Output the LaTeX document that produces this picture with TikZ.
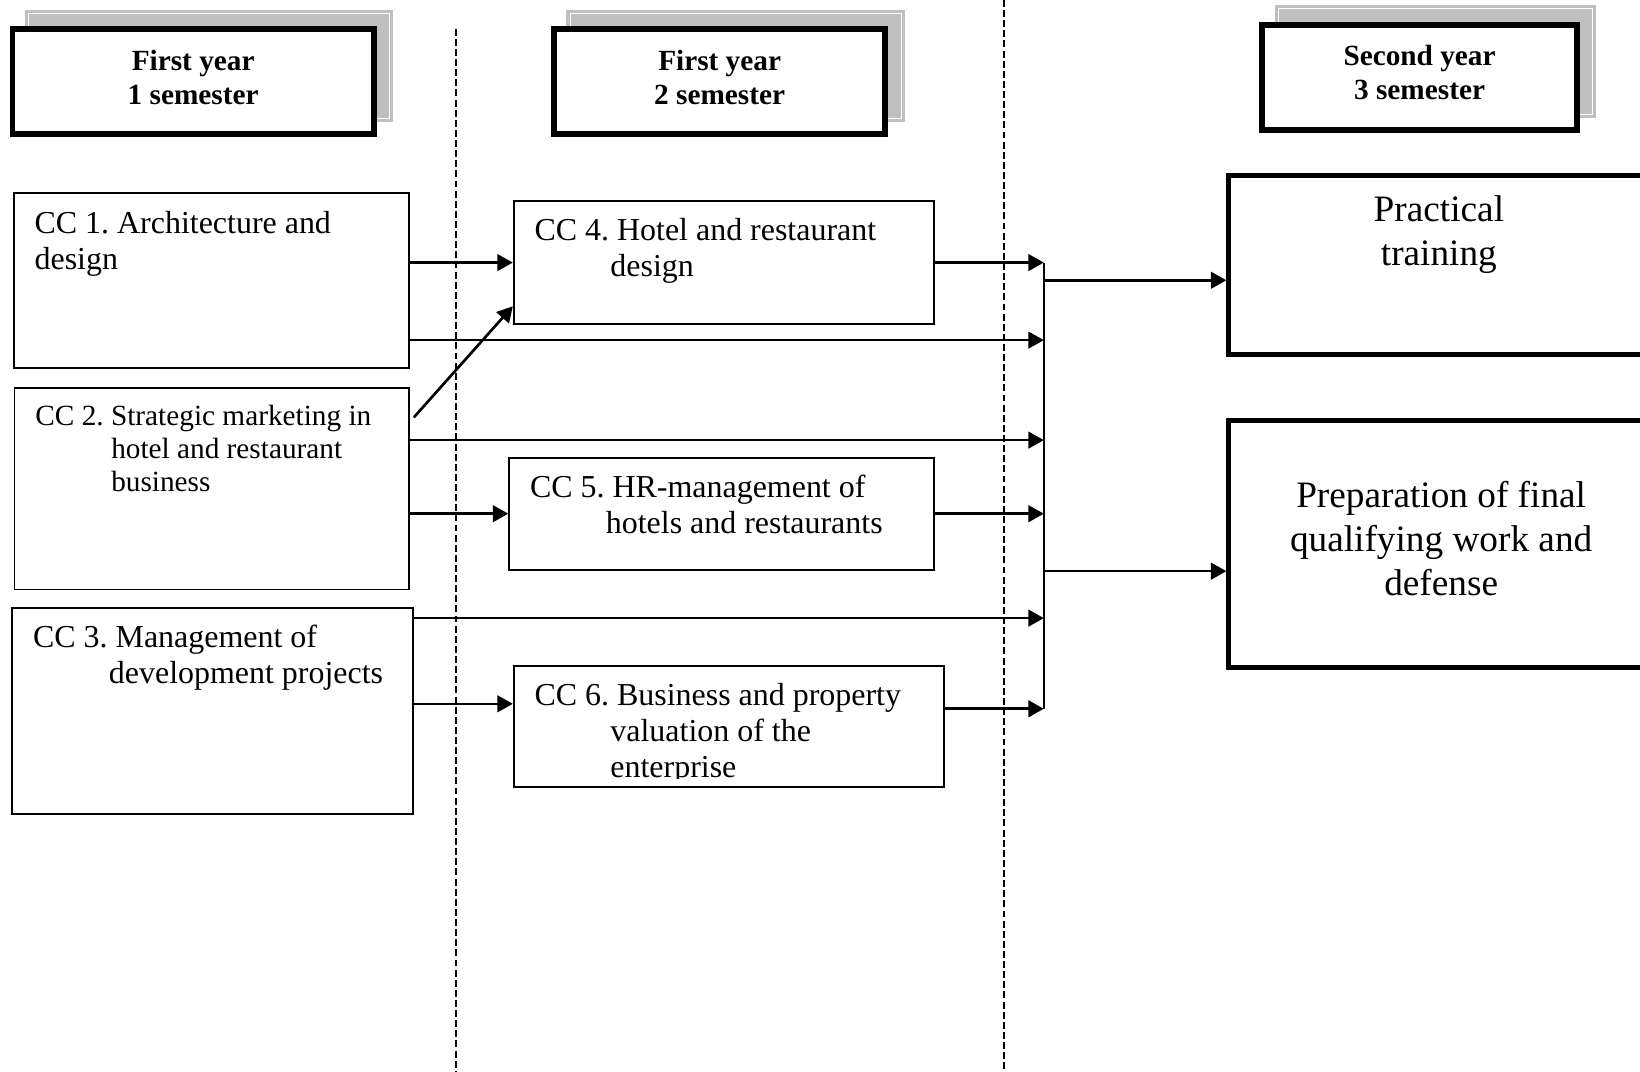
\documentclass[tikz,border=0pt]{standalone}
\usepackage{fontspec}
\setmainfont{Liberation Serif}
\usetikzlibrary{arrows.meta, shadows}

\tikzset{
    semester/.style={draw, line width=2.25pt, fill=white, minimum height=1.39cm,
        general shadow={shadow xshift=0.21cm, shadow yshift=0.21cm, fill=gray!50,
            draw=gray!50, double=white, double distance=0.35pt, line width=1.2pt}},
    semtext/.style={align=center, inner sep=0pt,
        font=\fontsize{11}{12.6}\selectfont\bfseries\frenchspacing},
    ccbox/.style={draw, line width=0.65pt, anchor=north west, inner sep=0pt},
    cctext/.style={anchor=north west, align=left, inner sep=0pt,
        font=\fontsize{12}{13.5}\selectfont\frenchspacing},
    bigbox/.style={draw, line width=1.7pt, anchor=north west, inner sep=0pt},
    bigtext/.style={anchor=north, align=center, inner sep=0pt,
        font=\fontsize{14}{16.4}\selectfont},
    arr/.style={-{Triangle[length=5.8pt, width=6.2pt]}, line width=1pt},
    divider/.style={dash pattern=on 2.6pt off 1.2pt, line width=0.75pt}
}
\newcommand{\ccindent}{\hspace*{28.5pt}}

\begin{document}
\begin{tikzpicture}
    \useasboundingbox (0,0) rectangle (21.65,-14.14);

    % Dividing lines between the semesters
    \draw[divider] (6.02,-0.38) -- (6.02,-14.14);
    \draw[divider] (13.26,0) -- (13.26,-14.14);

    % Semester headers
    \node[semester, minimum width=4.77cm] (sem1) at (2.55,-1.08) {};
    \node[semester, minimum width=4.37cm] (sem2) at (9.50,-1.08) {};
    \node[semester, minimum width=4.15cm] (sem3) at (18.74,-1.02) {};
    \node[semtext] (sem1txt) at ([yshift=0.06cm]sem1.center) {First year\\1 semester};
    \node[semtext] (sem2txt) at ([yshift=0.06cm]sem2.center) {First year\\2 semester};
    \node[semtext] (sem3txt) at ([yshift=0.06cm]sem3.center) {Second year\\3 semester};

    % First semester courses
    \node[ccbox, minimum width=5.22cm, minimum height=2.31cm] (cc1) at (0.17,-2.54) {};
    \node[ccbox, minimum width=5.21cm, minimum height=2.66cm] (cc2) at (0.18,-5.11) {};
    \node[ccbox, minimum width=5.29cm, minimum height=2.72cm] (cc3) at (0.15,-8.01) {};
    \node[cctext] (cc1txt) at ([shift={(0.28,-0.2)}]cc1.north west) {\strut CC 1. Architecture and\\design};
    \node[cctext, font=\fontsize{11}{12.5}\selectfont\frenchspacing] (cc2txt) at ([shift={(0.28,-0.19)}]cc2.north west)
        {\strut CC 2. Strategic marketing in\\\ccindent hotel and restaurant\\\ccindent business};
    \node[cctext] (cc3txt) at ([shift={(0.28,-0.2)}]cc3.north west) {\strut CC 3. Management of\\\ccindent development projects};

    % Second semester courses
    \node[ccbox, minimum width=5.55cm, minimum height=1.63cm] (cc4) at (6.77,-2.64) {};
    \node[ccbox, minimum width=5.61cm, minimum height=1.48cm] (cc5) at (6.71,-6.03) {};
    \node[ccbox, minimum width=5.68cm, minimum height=1.60cm] (cc6) at (6.77,-8.78) {};
    \node[cctext] (cc4txt) at ([shift={(0.28,-0.2)}]cc4.north west) {\strut CC 4. Hotel and restaurant\\\ccindent design};
    \node[cctext] (cc5txt) at ([shift={(0.28,-0.2)}]cc5.north west) {\strut CC 5. HR-management of\\\ccindent hotels and restaurants};
    \begin{scope}
        \clip (cc6.north west) rectangle ([yshift=0.12cm]cc6.south east);
        \node[cctext] (cc6txt) at ([shift={(0.28,-0.2)}]cc6.north west)
            {\strut CC 6. Business and property\\\ccindent valuation of the\\\ccindent enterprise};
    \end{scope}

    % Third semester
    \node[bigbox, minimum width=5.61cm, minimum height=2.36cm] (prac) at (16.19,-2.29) {};
    \node[bigbox, minimum width=5.61cm, minimum height=3.26cm] (prep) at (16.19,-5.52) {};
    \node[bigtext] (practxt) at ([xshift=-0.03cm, yshift=-0.23cm]prac.north) {\strut Practical\\training};
    \node[bigtext, anchor=center] (preptxt) at ([yshift=0.07cm]prep.center)
        {Preparation of final\\qualifying work and\\defense};

    % Collecting line
    \coordinate (cx) at (13.78,0);
    \coordinate (c1) at (13.78,-4.49);
    \coordinate (c2) at (13.78,-5.81);
    \coordinate (c3) at (13.78,-8.16);
    \coordinate (cc6in) at ([yshift=0.3cm]cc6.west);
    \coordinate (cc6out) at ([yshift=0.235cm]cc6.east);
    \coordinate (pracin) at ([yshift=-0.2cm]prac.west);
    \coordinate (prepin) at ([yshift=-0.36cm]prep.west);
    \draw[line width=0.6pt] (cc4.east -| cx) -- (cc6out -| cx);

    % Arrows
    \draw[arr] (cc1.east |- cc4.west) -- (cc4.west);
    \draw[arr] ([shift={(0.05,-0.4)}]cc2.north east) -- ([yshift=0.25cm]cc4.south west);
    \draw[arr] (cc2.east |- cc5.west) -- (cc5.west);
    \draw[arr] (cc3.east |- cc6in) -- (cc6in);
    \draw[arr] (cc1.east |- c1) -- (c1);
    \draw[arr] (cc2.east |- c2) -- (c2);
    \draw[arr] (cc3.east |- c3) -- (c3);
    \draw[arr] (cc4.east) -- (cc4.east -| cx);
    \draw[arr] (cc5.east) -- (cc5.east -| cx);
    \draw[arr] (cc6out) -- (cc6out -| cx);
    \draw[arr] (pracin -| cx) -- (pracin);
    \draw[arr] (prepin -| cx) -- (prepin);

\end{tikzpicture}
\end{document}
